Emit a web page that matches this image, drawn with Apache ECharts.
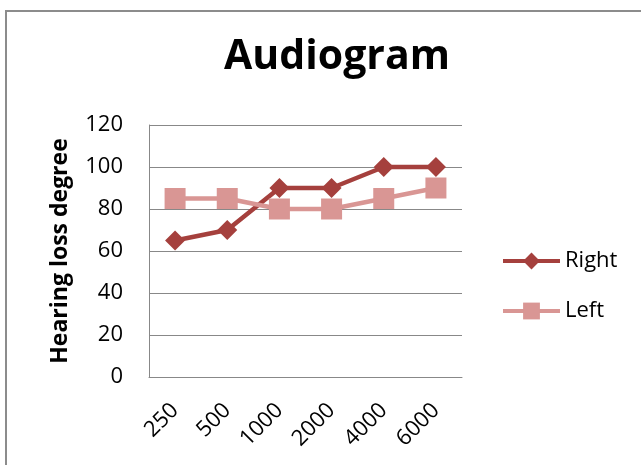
<!DOCTYPE html>
<html><head><meta charset="utf-8">
<script src="https://cdn.jsdelivr.net/npm/echarts@6/dist/echarts.min.js"></script>
<style>html,body{margin:0;padding:0;background:#fff}#c{width:641px;height:465px}</style>
</head><body><div id="c"></div>
<script>
var categories = ['250','500','1000','2000','4000','6000'];
var rightValues = [65, 70, 90, 90, 100, 100];
var leftValues = [85, 85, 80, 80, 85, 90];
var chart = echarts.init(document.getElementById('c'));
var font = 'Open Sans';
chart.setOption({
  animation: false,
  backgroundColor: '#fff',
  graphic: [{type:'rect', shape:{x:6, y:11, width:700, height:500}, style:{fill:'none', stroke:'#8c8c8c', lineWidth:2}}],
  title: {text:'Audiogram', left:332, top:32, textAlign:'center', textStyle:{fontFamily:font, fontSize:41, fontWeight:'bold', color:'#000'}},
  legend: {orient:'vertical', left:496, top:245, itemGap:28, itemWidth:57, itemHeight:21,
    lineStyle:{width:4},
    textStyle:{fontFamily:font, fontSize:22, color:'#000'},
    data:['Right','Left']},
  grid: {left:149, right:179, top:125, bottom:88},
  xAxis: {type:'category', data:categories, boundaryGap:true,
    axisLine:{lineStyle:{color:'#888'}}, axisTick:{show:false},
    axisLabel:{rotate:45, fontFamily:font, fontSize:22, color:'#000', margin:30}},
  yAxis: {type:'value', min:0, max:120, interval:20,
    name:'Hearing loss degree', nameLocation:'middle', nameGap:77, nameRotate:90,
    nameTextStyle:{fontFamily:font, fontSize:23, fontWeight:'bold', color:'#000'},
    axisLine:{show:true, lineStyle:{color:'#888'}}, axisTick:{show:false},
    axisLabel:{fontFamily:font, fontSize:22, color:'#000', margin:26},
    splitLine:{lineStyle:{color:'#888'}}},
  series: [
    {name:'Right', type:'line', data:rightValues, symbol:'diamond', symbolSize:20,
      lineStyle:{width:4.5, color:'#A5403D'}, itemStyle:{color:'#A5403D'}},
    {name:'Left', type:'line', data:leftValues, symbol:'rect', symbolSize:21,
      lineStyle:{width:4.5, color:'#D99694'}, itemStyle:{color:'#D99694'}}
  ]
});
</script></body></html>
